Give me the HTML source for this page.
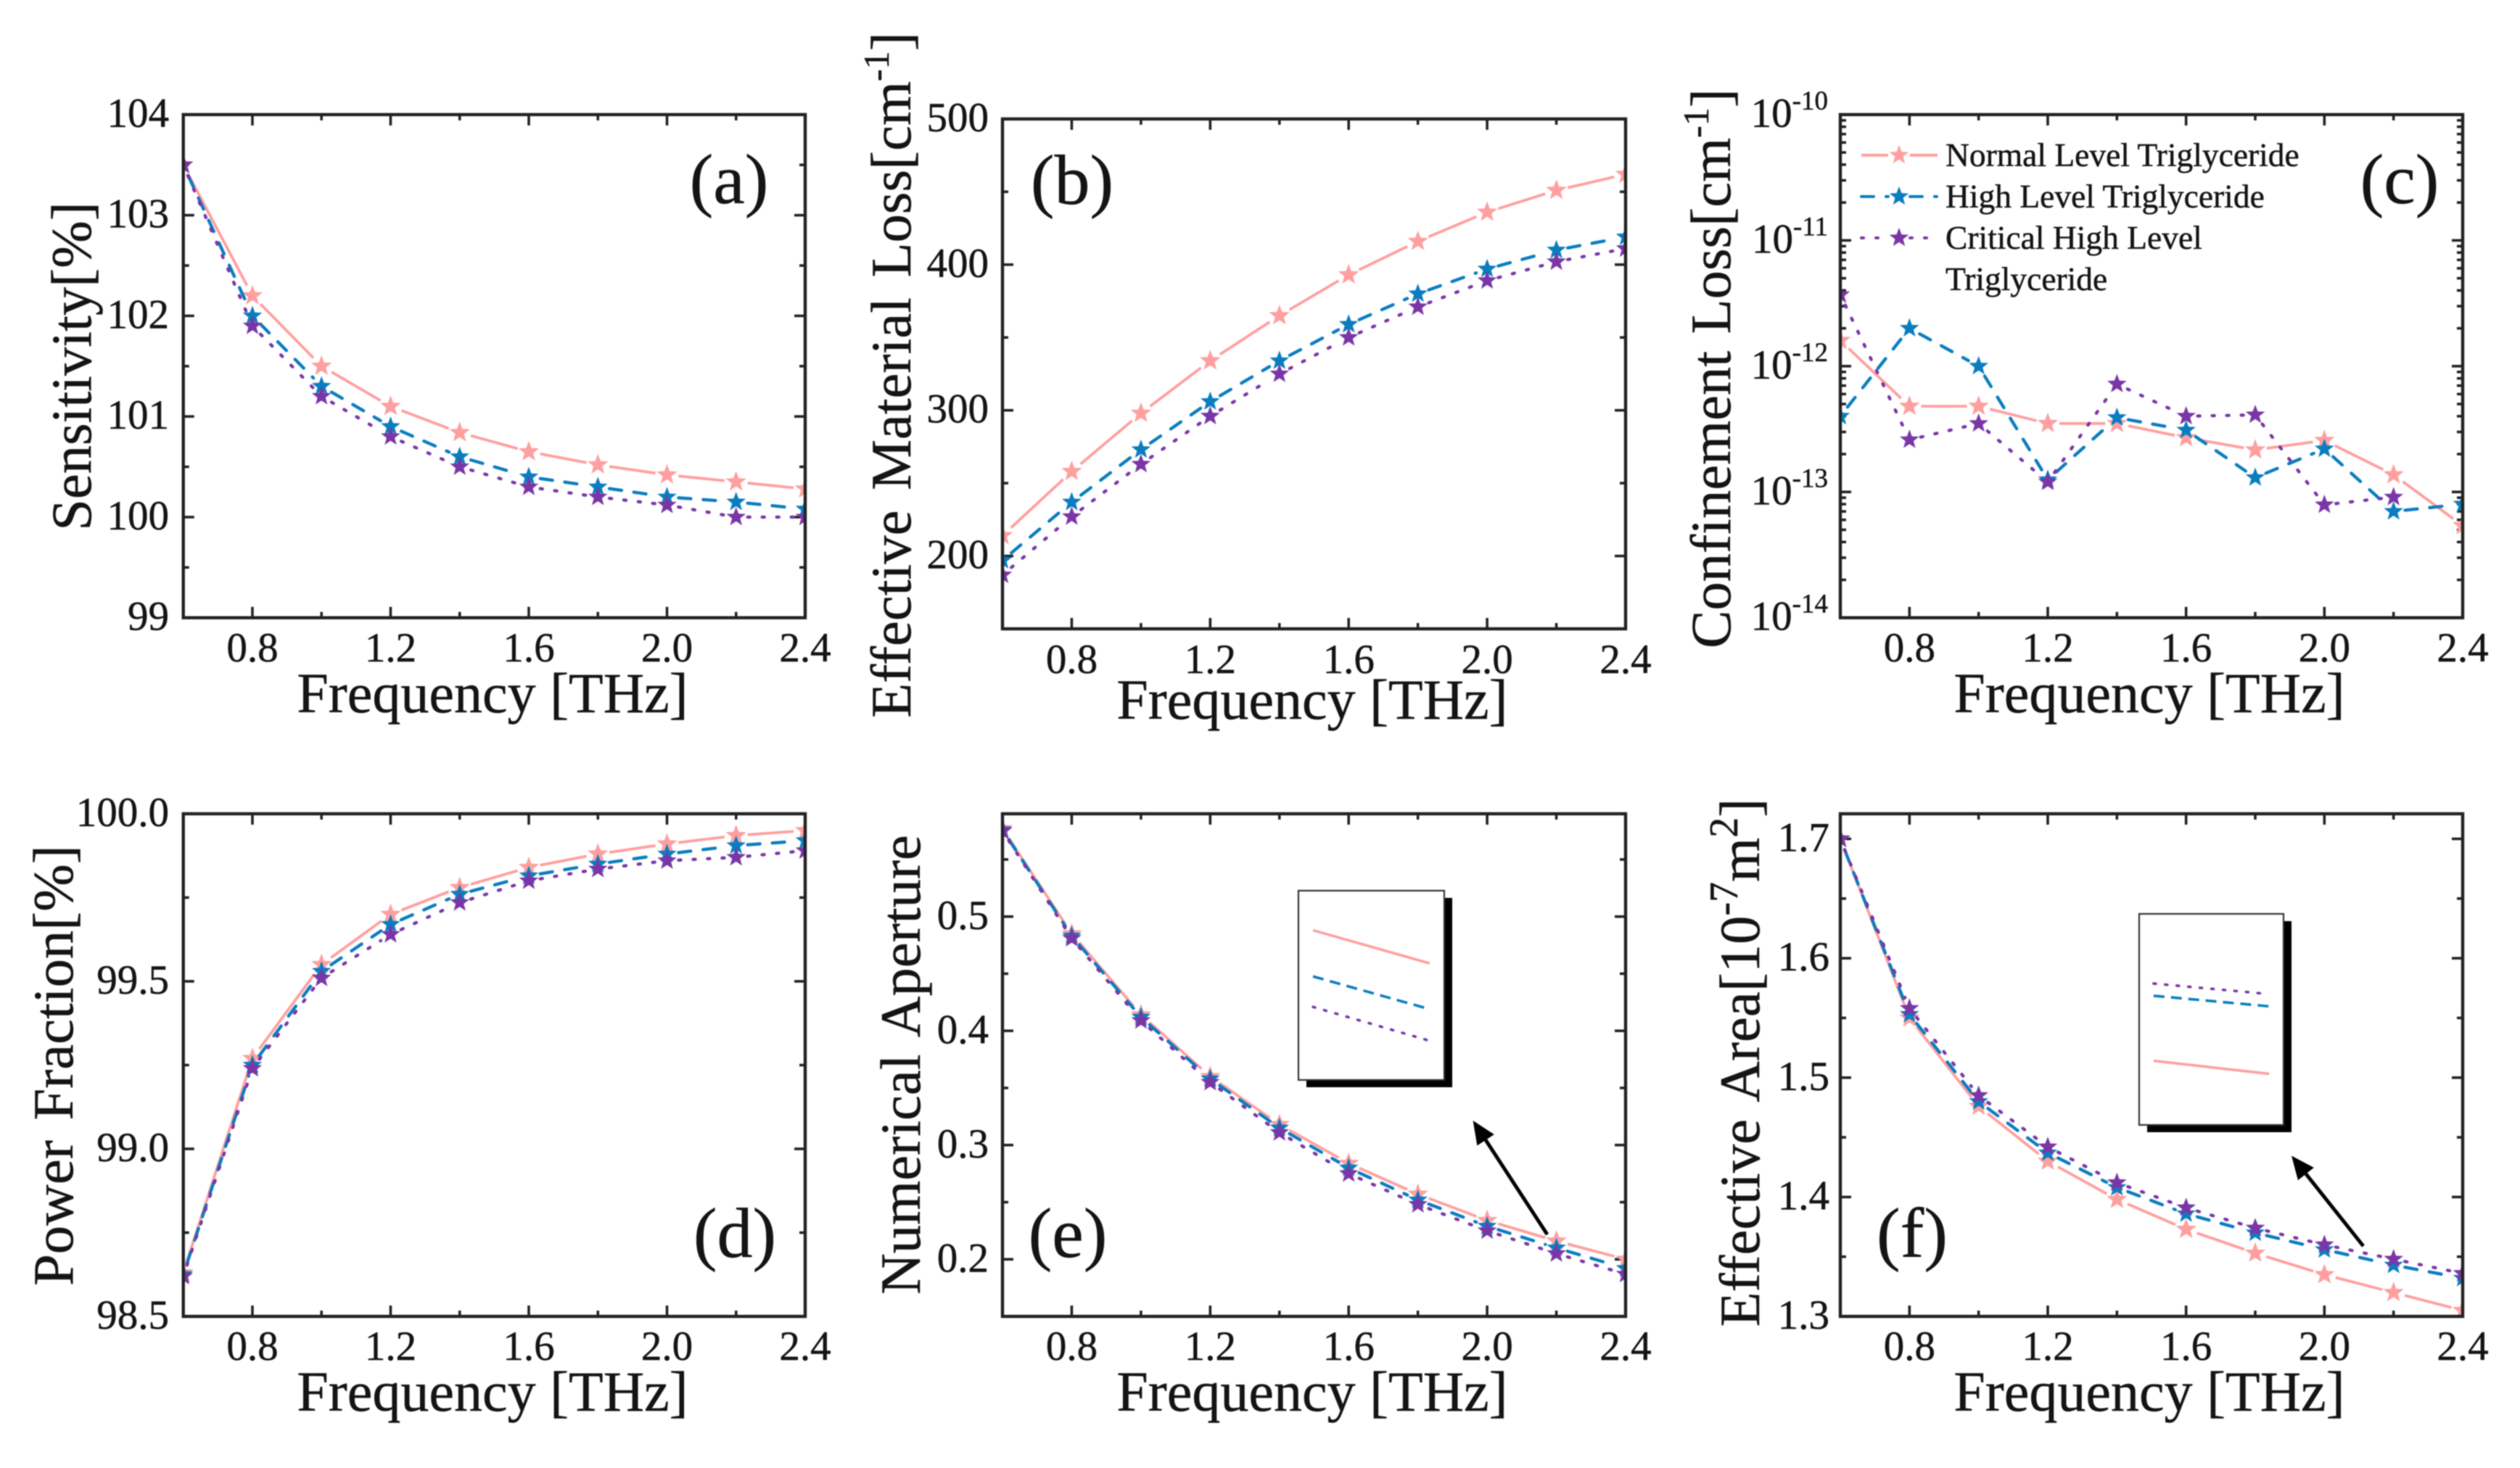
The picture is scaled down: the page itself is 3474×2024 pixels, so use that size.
<!DOCTYPE html>
<html>
<head>
<meta charset="utf-8">
<title>Triglyceride sensor frequency response panels</title>
<style>
html,body{margin:0;padding:0;background:#fff;}
svg{display:block;filter:blur(0.9px);}
text{font-family:"Liberation Serif",serif;fill:#141414;stroke:#141414;stroke-width:0.5px;}
</style>
</head>
<body>
<svg id="figure" xmlns="http://www.w3.org/2000/svg" width="3474" height="2024" viewBox="0 0 3474 2024">
<rect x="0" y="0" width="3474" height="2024" fill="#fff"/>
<defs id="defs"></defs>
<g id="panels"></g>
</svg>
<script>
const frequency=[0.6,0.8,1.0,1.2,1.4,1.6,1.8,2.0,2.2,2.4];
const xTicks=[0.8,1.2,1.6,2.0,2.4];
const xTickLabels=['0.8','1.2','1.6','2.0','2.4'];
const xMinorTicks=[1.0,1.4,1.8,2.2];

const aNormal=[103.5,102.2,101.5,101.1,100.84,100.65,100.52,100.42,100.35,100.28];
const aHigh=[103.5,102.0,101.3,100.9,100.6,100.4,100.3,100.2,100.15,100.08];
const aCritical=[103.5,101.9,101.2,100.8,100.5,100.3,100.2,100.12,100.0,100.0];
const aTicks=[99,100,101,102,103,104];
const aTickLabels=['99','100','101','102','103','104'];
const aMinorTicks=[99.5,100.5,101.5,102.5,103.5];

const bNormal=[214,258,298,334,365,393,416,436,451,462];
const bHigh=[197,237,273,306,334,359,380,397,410,419];
const bCritical=[187,227,263,296,325,350,371,389,402,411];
const bTicks=[200,300,400,500];
const bTickLabels=['200','300','400','500'];
const bMinorTicks=[250,350,450];

const cNormal=[1.6e-12,4.8e-13,4.8e-13,3.5e-13,3.5e-13,2.7e-13,2.16e-13,2.57e-13,1.37e-13,5.4e-14];
const cHigh=[4e-13,2e-12,1e-12,1.25e-13,3.9e-13,3.1e-13,1.3e-13,2.2e-13,7e-14,8e-14];
const cCritical=[3.7e-12,2.6e-13,3.5e-13,1.2e-13,7.2e-13,4e-13,4.1e-13,7.9e-14,9.1e-14,null];
const cTicks=[1e-14,1e-13,1e-12,1e-11,1e-10];
const cTickExponents=['-14','-13','-12','-11','-10'];
const cMinorFactors=[2,3,4,5,6,7,8,9];

const dNormal=[98.63,99.27,99.55,99.70,99.78,99.84,99.88,99.91,99.935,99.95];
const dHigh=[98.625,99.25,99.53,99.67,99.76,99.815,99.85,99.88,99.905,99.92];
const dCritical=[98.62,99.24,99.51,99.64,99.735,99.80,99.835,99.86,99.87,99.89];
const dTicks=[98.5,99.0,99.5,100.0];
const dTickLabels=['98.5','99.0','99.5','100.0'];
const dMinorTicks=[98.75,99.25,99.75];

const eNormal=[0.577,0.485,0.414,0.36,0.318,0.284,0.257,0.234,0.216,0.2];
const eHigh=[0.576,0.483,0.412,0.358,0.315,0.28,0.252,0.229,0.21,0.192];
const eCritical=[0.575,0.481,0.409,0.355,0.311,0.275,0.248,0.225,0.205,0.187];
const eTicks=[0.2,0.3,0.4,0.5];
const eTickLabels=['0.2','0.3','0.4','0.5'];
const eMinorTicks=[0.25,0.35,0.45,0.55];
const eInsetNormal=[0.791,0.616];
const eInsetHigh=[0.547,0.374];
const eInsetCritical=[0.386,0.207];

const fNormal=[1.70,1.55,1.476,1.43,1.398,1.373,1.353,1.335,1.32,1.305];
const fHigh=[1.70,1.553,1.48,1.437,1.408,1.386,1.37,1.356,1.343,1.332];
const fCritical=[1.70,1.558,1.485,1.442,1.412,1.391,1.374,1.36,1.348,1.336];
const fTicks=[1.3,1.4,1.5,1.6,1.7];
const fTickLabels=['1.3','1.4','1.5','1.6','1.7'];
const fMinorTicks=[1.35,1.45,1.55,1.65];
const fInsetNormal=[0.304,0.242];
const fInsetHigh=[0.612,0.562];
const fInsetCritical=[0.67,0.62];

const insetX=[0.1,0.9];

const NS='http://www.w3.org/2000/svg';
const root=document.getElementById('panels');
const defs=document.getElementById('defs');
const COLORS={normal:'#ff9f9f',high:'#0a7dbf',critical:'#7a36a6'};
const DASH={normal:'none',high:'17 17',critical:'3 17'};
const XMIN=0.6,XMAX=2.4;

function mk(tag,attrs,parent,txt){
  const el=document.createElementNS(NS,tag);
  for(const k in attrs){el.setAttribute(k,attrs[k]);}
  if(txt!==undefined){el.textContent=txt;}
  if(parent){parent.appendChild(el);}
  return el;
}
function starPoints(cx,cy,r){
  const pts=[];
  for(let i=0;i<10;i++){
    const rad=i%2===0?r:r*0.42;
    const a=-Math.PI/2+i*Math.PI/5;
    pts.push((cx+rad*Math.cos(a)).toFixed(1)+','+(cy+rad*Math.sin(a)).toFixed(1));
  }
  return pts.join(' ');
}
function gapSegment(g,p,q,kind,gap){
  const dx=q[0]-p[0],dy=q[1]-p[1],len=Math.hypot(dx,dy);
  if(len<=2*gap){return;}
  const ux=dx/len,uy=dy/len;
  const seg=mk('line',{x1:p[0]+ux*gap,y1:p[1]+uy*gap,x2:q[0]-ux*gap,y2:q[1]-uy*gap,
    stroke:COLORS[kind],'stroke-width':kind==='normal'?3.8:4.4,
    'stroke-dasharray':DASH[kind],'stroke-linecap':kind==='normal'?'butt':'round'},g);
  
  
}
function drawSeries(parent,vals,kind,sx,sy){
  const g=mk('g',{},parent);
  
  
  const pts=[];
  frequency.forEach(function(f,i){
    if(vals[i]!==null){pts.push([sx(f),sy(vals[i])]);}
  });
  for(let i=0;i<pts.length-1;i++){gapSegment(g,pts[i],pts[i+1],kind,16);}
  pts.forEach(function(p){
    const s=mk('polygon',{points:starPoints(p[0],p[1],kind==='normal'?15:14),fill:COLORS[kind]},g);
    
    
  });
}
function tickLine(g,x1,y1,x2,y2,name){
  const t=mk('line',{x1:x1,y1:y1,x2:x2,y2:y2,stroke:'#222','stroke-width':3.6},g);
  
  
}
function tickLabel(parent,x,y,anchor,txt,exp){
  const t=mk('text',{x:x,y:y,'text-anchor':anchor,'font-size':57},parent);
  
  
  mk('tspan',{},t,txt);
  if(exp){mk('tspan',{dy:-24,'font-size':37},t,exp);}
}
function insetLines(parent,box,normal,high,critical){
  const ix=function(v){return box.x+v*box.w;};
  const iy=function(v){return box.y+box.h-v*box.h;};
  const sets=[['normal',normal],['high',high],['critical',critical]];
  sets.forEach(function(s){
    const l=mk('line',{x1:ix(insetX[0]),y1:iy(s[1][0]),x2:ix(insetX[1]),y2:iy(s[1][1]),
      stroke:COLORS[s[0]],'stroke-width':3.6,
      'stroke-dasharray':s[0]==='high'?'15 9':(s[0]==='critical'?'3 13':'none'),
      'stroke-linecap':s[0]==='critical'?'round':'butt'},parent);
    
    
  });
}

function drawPanel(p){
  const g=mk('g',{},root);
  
  
  const sx=function(v){return p.left+(v-XMIN)/(XMAX-XMIN)*(p.right-p.left);};
  const sy=p.log
    ?function(v){return p.bottom-(Math.log10(v)-Math.log10(p.ymin))/(Math.log10(p.ymax)-Math.log10(p.ymin))*(p.bottom-p.top);}
    :function(v){return p.bottom-(v-p.ymin)/(p.ymax-p.ymin)*(p.bottom-p.top);};

  const clip=mk('clipPath',{id:'clip-'+p.id},defs);
  mk('rect',{x:p.left,y:p.top,width:p.right-p.left,height:p.bottom-p.top},clip);

  const ticks=mk('g',{},g);
  
  
  const MAJ=15,MIN=8;
  xTicks.forEach(function(v,i){
    tickLine(ticks,sx(v),p.bottom,sx(v),p.bottom-MAJ,'x-major-tick');
    tickLine(ticks,sx(v),p.top,sx(v),p.top+MAJ,'x-major-tick-top');
    tickLabel(g,sx(v),p.xLabelY,'middle',xTickLabels[i]);
  });
  xMinorTicks.forEach(function(v){
    tickLine(ticks,sx(v),p.bottom,sx(v),p.bottom-MIN,'x-minor-tick');
    tickLine(ticks,sx(v),p.top,sx(v),p.top+MIN,'x-minor-tick-top');
  });
  p.yTicks.forEach(function(v,i){
    tickLine(ticks,p.left,sy(v),p.left+MAJ,sy(v),'y-major-tick');
    tickLine(ticks,p.right,sy(v),p.right-MAJ,sy(v),'y-major-tick-right');
    if(p.log){tickLabel(g,p.yLabelX,sy(v)+17,'end','10',p.yExps[i]);}
    else{tickLabel(g,p.yLabelX,sy(v)+17,'end',p.yLabels[i]);}
  });
  p.yMinor.forEach(function(v){
    tickLine(ticks,p.left,sy(v),p.left+MIN,sy(v),'y-minor-tick');
    tickLine(ticks,p.right,sy(v),p.right-MIN,sy(v),'y-minor-tick-right');
  });

  const marks=mk('g',{'clip-path':'url(#clip-'+p.id+')'},g);
  
  
  drawSeries(marks,p.normal,'normal',sx,sy);
  drawSeries(marks,p.high,'high',sx,sy);
  drawSeries(marks,p.critical,'critical',sx,sy);

  const frame=mk('rect',{x:p.left,y:p.top,width:p.right-p.left,height:p.bottom-p.top,fill:'none',stroke:'#222','stroke-width':4.4},g);
  
  

  if(p.inset){
    const b=p.inset;
    const sh=mk('rect',{x:b.x+11,y:b.y+10,width:b.w,height:b.h,fill:'#000'},g);
    
    
    const box=mk('rect',{x:b.x,y:b.y,width:b.w,height:b.h,fill:'#fff',stroke:'#333','stroke-width':2.2},g);
    
    
    insetLines(g,b,p.insetNormal,p.insetHigh,p.insetCritical);
    const a=p.arrow;
    const ang=Math.atan2(a.ty-a.sy,a.tx-a.sx);
    const ux=Math.cos(ang),uy=Math.sin(ang);
    const bx=a.tx-ux*32,by=a.ty-uy*32;
    const arrowLine=mk('line',{x1:a.sx,y1:a.sy,x2:bx,y2:by,stroke:'#000','stroke-width':5},g);
    
    
    const head=mk('polygon',{points:a.tx+','+a.ty+' '+(bx-uy*14)+','+(by+ux*14)+' '+(bx+uy*14)+','+(by-ux*14),fill:'#000'},g);
    
    
  }

  const xt=mk('text',{x:p.xTitleX,y:p.xTitleY,'text-anchor':'middle','font-size':78},g,'Frequency [THz]');
  
  

  const yt=mk('text',{x:p.yTitleX,y:p.yTitleY,'text-anchor':'middle','font-size':78.5,'word-spacing':p.wordSpacing||0,
    transform:'rotate(-90 '+p.yTitleX+' '+p.yTitleY+')'},g);
  
  
  p.yTitle.forEach(function(part){
    if(part.sup){mk('tspan',{dy:-30,'font-size':p.supSize||50},yt,part.t);}
    else if(part.after){mk('tspan',{dy:30},yt,part.t);}
    else{mk('tspan',{},yt,part.t);}
  });

  const lab=mk('text',{x:p.labelX,y:p.labelY,'text-anchor':'middle','font-size':98},g,'('+p.id+')');
  
  
  return g;
}

const LEFT1=252.7,RIGHT1=1110,LEFT2=1382,RIGHT2=2241,LEFT3=2537,RIGHT3=3395;

drawPanel({id:'a',left:LEFT1,right:RIGHT1,top:158,bottom:851.7,ymin:99,ymax:104,
  normal:aNormal,high:aHigh,critical:aCritical,yTicks:aTicks,yLabels:aTickLabels,yMinor:aMinorTicks,
  xLabelY:912,yLabelX:233,xTitleX:679,xTitleY:982,yTitleX:125,yTitleY:505,
  yTitle:[{t:'Sensitivity[%]'}],labelX:1005,labelY:280});

drawPanel({id:'b',left:LEFT2,right:RIGHT2,top:164,bottom:867,ymin:150,ymax:500,
  normal:bNormal,high:bHigh,critical:bCritical,yTicks:bTicks,yLabels:bTickLabels,yMinor:bMinorTicks,
  xLabelY:928,yLabelX:1363,xTitleX:1809,xTitleY:991,yTitleX:1255,yTitleY:517,wordSpacing:8,
  yTitle:[{t:'Effective Material Loss[cm'},{t:'-1',sup:true},{t:']',after:true}],labelX:1478,labelY:281});

const cMinor=[];
[-14,-13,-12,-11].forEach(function(exp){
  cMinorFactors.forEach(function(m){cMinor.push(m*Math.pow(10,exp));});
});
drawPanel({id:'c',log:true,left:LEFT3,right:RIGHT3,top:158,bottom:851.7,ymin:1e-14,ymax:1e-10,
  normal:cNormal,high:cHigh,critical:cCritical,yTicks:cTicks,yExps:cTickExponents,yMinor:cMinor,
  xLabelY:912,yLabelX:2520,xTitleX:2963,xTitleY:982,yTitleX:2385,yTitleY:508,wordSpacing:4,
  yTitle:[{t:'Confinement Loss[cm'},{t:'-1',sup:true},{t:']',after:true}],labelX:3308,labelY:280});

drawPanel({id:'d',left:LEFT1,right:RIGHT1,top:1122,bottom:1815,ymin:98.5,ymax:100,
  normal:dNormal,high:dHigh,critical:dCritical,yTicks:dTicks,yLabels:dTickLabels,yMinor:dMinorTicks,
  xLabelY:1875,yLabelX:233,xTitleX:679,xTitleY:1945,yTitleX:100,yTitleY:1469,wordSpacing:8,
  yTitle:[{t:'Power Fraction[%]'}],labelX:1013,labelY:1733});

drawPanel({id:'e',left:LEFT2,right:RIGHT2,top:1122,bottom:1815,ymin:0.15,ymax:0.59,
  normal:eNormal,high:eHigh,critical:eCritical,yTicks:eTicks,yLabels:eTickLabels,yMinor:eMinorTicks,
  xLabelY:1875,yLabelX:1363,xTitleX:1809,xTitleY:1945,yTitleX:1268,yTitleY:1468,wordSpacing:8,
  yTitle:[{t:'Numerical Aperture'}],labelX:1472,labelY:1733,
  inset:{x:1790,y:1228,w:201,h:261},insetNormal:eInsetNormal,insetHigh:eInsetHigh,insetCritical:eInsetCritical,
  arrow:{sx:2133,sy:1702,tx:2030.6,ty:1545}});

drawPanel({id:'f',left:LEFT3,right:RIGHT3,top:1122,bottom:1815,ymin:1.3,ymax:1.721,
  normal:fNormal,high:fHigh,critical:fCritical,yTicks:fTicks,yLabels:fTickLabels,yMinor:fMinorTicks,
  xLabelY:1875,yLabelX:2522,xTitleX:2963,xTitleY:1945,yTitleX:2425,yTitleY:1465,wordSpacing:8,supSize:56,
  yTitle:[{t:'Effective Area[10'},{t:'-7',sup:true},{t:'m',after:true},{t:'2',sup:true},{t:']',after:true}],labelX:2636,labelY:1733,
  inset:{x:2949,y:1260,w:199,h:291},insetNormal:fInsetNormal,insetHigh:fInsetHigh,insetCritical:fInsetCritical,
  arrow:{sx:3258,sy:1718,tx:3159,ty:1593.5}});

const legendLabels=['Normal Level Triglyceride','High Level Triglyceride','Critical High Level'];
const legendKinds=['normal','high','critical'];
const legend=mk('g',{},root);


legendLabels.forEach(function(lbl,i){
  const y=214+i*57;
  const item=mk('g',{},legend);
  
  
  const kind=legendKinds[i];
  const d=kind==='high'?'17 17 3 17':DASH[kind];
  [[2566,2603],[2633,2671]].forEach(function(span){
    const l=mk('line',{x1:span[0],y1:y,x2:span[1],y2:y,stroke:COLORS[kind],'stroke-width':4,
      'stroke-dasharray':d,'stroke-linecap':kind==='normal'?'butt':'round'},item);
    
    
  });
  const s=mk('polygon',{points:starPoints(2618,y,14),fill:COLORS[kind]},item);
  
  
  const t=mk('text',{x:2682,y:y+15,'font-size':45.5},item,lbl);
  
  
});
const legendWrap=mk('text',{x:2682,y:214+3*57+15,'font-size':45.5},legend,'Triglyceride');


</script>
</body>
</html>
